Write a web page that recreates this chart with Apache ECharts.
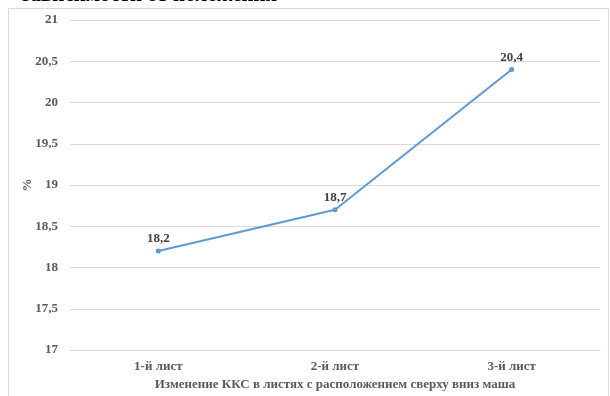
<!DOCTYPE html>
<html>
<head>
<meta charset="utf-8">
<style>
  html, body { margin: 0; padding: 0; background: #fff; }
  #chart { width: 610px; height: 396px; }
</style>
<script src="https://cdn.jsdelivr.net/npm/echarts@6/dist/echarts.min.js"></script>
</head>
<body>
<div id="chart"></div>
<script>
// Leaves counted top to bottom
const categories = ['1-й лист', '2-й лист', '3-й лист'];
// KKS values, %
const values = [18.2, 18.7, 20.4];
// Y axis range and step
const yMin = 17, yMax = 21, yStep = 0.5;

const serif = '"Liberation Serif", "DejaVu Serif", serif';
const fmt = v => String(v).replace('.', ',');

const chart = echarts.init(document.getElementById('chart'), null, { renderer: 'canvas' });
chart.setOption({
  animation: false,
  backgroundColor: '#fff',
  graphic: [
    {
      type: 'rect',
      shape: { x: 8.5, y: 8.5, width: 600, height: 400 },
      style: { fill: 'none', stroke: '#d9d9d9', lineWidth: 1 },
      silent: true
    },
    {
      type: 'text',
      x: 22,
      y: -15,
      style: {
        text: 'зависимости от положения',
        font: 'bold 21px ' + serif,
        fill: '#000',
        verticalAlign: 'top'
      },
      silent: true
    }
  ],
  grid: { left: 70, right: 10, top: 20, bottom: 46 },
  xAxis: {
    type: 'category',
    data: categories,
    boundaryGap: true,
    axisTick: { show: false },
    axisLine: { lineStyle: { color: '#d9d9d9', width: 1 } },
    axisLabel: { color: '#595959', fontFamily: serif, fontWeight: 'bold', fontSize: 13, margin: 10 },
    name: 'Изменение ККС в листях с расположением сверху вниз маша',
    nameLocation: 'middle',
    nameGap: 28,
    nameMoveOverlap: false,
    nameTextStyle: { color: '#595959', fontFamily: serif, fontWeight: 'bold', fontSize: 13 }
  },
  yAxis: {
    type: 'value',
    min: yMin,
    max: yMax,
    interval: yStep,
    axisLine: { show: false },
    axisTick: { show: false },
    splitLine: { lineStyle: { color: '#d9d9d9', width: 1 } },
    axisLabel: {
      color: '#595959', fontFamily: serif, fontWeight: 'bold', fontSize: 13, margin: 12,
      formatter: fmt
    },
    name: '%',
    nameLocation: 'middle',
    nameGap: 36,
    nameRotate: 90,
    nameMoveOverlap: false,
    nameTextStyle: { color: '#595959', fontFamily: serif, fontWeight: 'bold', fontSize: 13 }
  },
  series: [{
    type: 'line',
    data: values,
    symbol: 'circle',
    symbolSize: 5,
    lineStyle: { color: '#5b9bd5', width: 2 },
    itemStyle: { color: '#5b9bd5' },
    label: {
      show: true,
      position: 'top',
      distance: 3,
      color: '#404040',
      fontFamily: serif,
      fontWeight: 'bold',
      fontSize: 13,
      formatter: p => fmt(p.value)
    }
  }]
});
</script>
</body>
</html>
